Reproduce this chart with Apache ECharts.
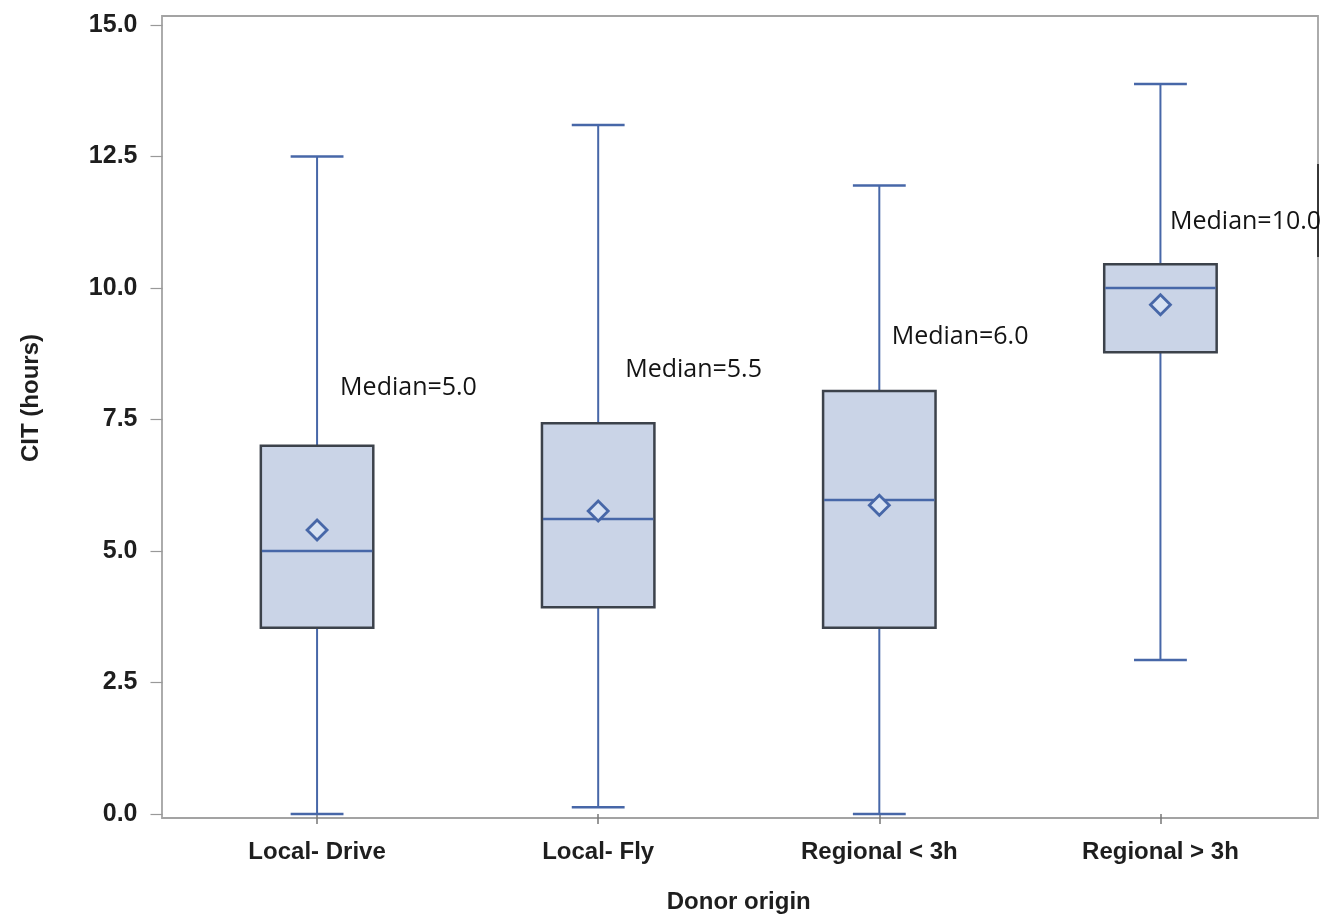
<!DOCTYPE html>
<html>
<head>
<meta charset="utf-8">
<script src="https://cdn.jsdelivr.net/npm/echarts@6/dist/echarts.min.js"></script>
<style>
  html, body { margin: 0; padding: 0; background: #ffffff; }
  #chart { width: 1323px; height: 919px; }
</style>
</head>
<body>
<div id="chart"></div>
<script>
// ---- data ----
const categories   = ['Local- Drive', 'Local- Fly', 'Regional < 3h', 'Regional > 3h'];
const whiskerLow   = [0.0, 0.13, 0.0, 2.93];
const q1           = [3.54, 3.93, 3.54, 8.78];
const median       = [5.0, 5.61, 5.97, 10.0];
const q3           = [7.0, 7.43, 8.04, 10.45];
const whiskerHigh  = [12.5, 13.1, 11.95, 13.88];
const means        = [5.4, 5.76, 5.87, 9.68];
const noteText     = ['Median=5.0', 'Median=5.5', 'Median=6.0', 'Median=10.0'];
const noteY        = [8.1, 8.44, 9.07, 11.25];
const yTicks       = [0, 2.5, 5, 7.5, 10, 12.5, 15];

// ---- styling ----
const noteDx = [0.082, 0.096, 0.044, 0.034]; // horizontal shift of notes, in category bands
const BOX_FILL = '#cad4e7';
const BOX_EDGE = '#3c424b';
const BLUE = '#4767a8';

const boxData = categories.map((c, i) => [i, whiskerLow[i], q1[i], median[i], q3[i], whiskerHigh[i], means[i]]);
const noteData = categories.map((c, i) => [i, noteY[i]]);

function renderBox(params, api) {
  const i = api.value(0);
  const band = api.size([1, 0])[0];
  const bw = band * 0.40;
  const cw = bw * 0.47;
  const x = api.coord([i, api.value(3)])[0];
  const yLo = api.coord([i, api.value(1)])[1];
  const yQ1 = api.coord([i, api.value(2)])[1];
  const yMed = api.coord([i, api.value(3)])[1];
  const yQ3 = api.coord([i, api.value(4)])[1];
  const yHi = api.coord([i, api.value(5)])[1];
  const yMean = api.coord([i, api.value(6)])[1];
  const d = 10;
  const line = (x1, y1, x2, y2, color, w) => ({
    type: 'line', shape: { x1, y1, x2, y2 }, style: { stroke: color, lineWidth: w }
  });
  return {
    type: 'group',
    children: [
      line(x, yQ3, x, yHi, BLUE, 2),
      line(x, yQ1, x, yLo, BLUE, 2),
      line(x - cw / 2, yHi, x + cw / 2, yHi, BLUE, 2.5),
      line(x - cw / 2, yLo, x + cw / 2, yLo, BLUE, 2.5),
      {
        type: 'rect',
        shape: { x: x - bw / 2, y: yQ3, width: bw, height: yQ1 - yQ3 },
        style: { fill: BOX_FILL, stroke: BOX_EDGE, lineWidth: 2.5 }
      },
      line(x - bw / 2 + 1, yMed, x + bw / 2 - 1, yMed, BLUE, 2.5),
      {
        type: 'polygon',
        shape: { points: [[x, yMean - d], [x + d, yMean], [x, yMean + d], [x - d, yMean]] },
        style: { fill: '#d7e2f3', stroke: BLUE, lineWidth: 2.8 }
      }
    ]
  };
}

function renderNote(params, api) {
  const i = api.value(0);
  const band = api.size([1, 0])[0];
  const p = api.coord([i, api.value(1)]);
  return {
    type: 'text',
    x: p[0] + band * noteDx[i],
    y: p[1],
    style: {
      text: noteText[i],
      fill: '#141414',
      font: '25px "Open Sans"',
      align: 'left',
      verticalAlign: 'middle'
    }
  };
}

const chart = echarts.init(document.getElementById('chart'), null, { renderer: 'canvas' });
chart.setOption({
  animation: false,
  backgroundColor: '#ffffff',
  grid: { left: 176.5, right: 22, top: 25, bottom: 105 },
  xAxis: {
    type: 'category',
    data: categories,
    offset: 4,
    name: 'Donor origin',
    nameLocation: 'middle',
    nameGap: 72,
    nameTextStyle: { fontFamily: 'Liberation Sans', fontWeight: 'bold', fontSize: 24, color: '#1e1e1e' },
    axisLine: { show: false },
    axisTick: { show: true, alignWithLabel: true, length: 10, lineStyle: { color: '#777', width: 1.5 } },
    axisLabel: { margin: 22, fontFamily: 'Liberation Sans', fontWeight: 'bold', fontSize: 24, color: '#1e1e1e' },
    splitLine: { show: false }
  },
  yAxis: {
    type: 'value',
    min: yTicks[0],
    max: yTicks[yTicks.length - 1],
    interval: yTicks[1] - yTicks[0],
    offset: 14,
    axisLine: { show: false },
    axisTick: { show: true, length: 12, lineStyle: { color: '#999', width: 1.2 } },
    axisLabel: {
      margin: 25,
      fontFamily: 'Liberation Sans', fontWeight: 'bold', fontSize: 25, color: '#1e1e1e',
      formatter: v => v.toFixed(1)
    },
    splitLine: { show: false }
  },
  graphic: [
    {
      type: 'rect', z: 0, silent: true,
      shape: { x: 162, y: 16, width: 1156, height: 802 },
      style: { fill: 'none', stroke: '#a3a3a3', lineWidth: 1.8 }
    },
    {
      type: 'line', z: 10, silent: true,
      shape: { x1: 1318, y1: 164, x2: 1318, y2: 257 },
      style: { stroke: '#111', lineWidth: 1.5 }
    },
    {
      type: 'text', silent: true,
      x: 31, y: 398, rotation: Math.PI / 2,
      style: {
        text: 'CIT (hours)', font: 'bold 24px "Liberation Sans"', fill: '#1e1e1e',
        align: 'center', verticalAlign: 'middle'
      }
    }
  ],
  series: [
    {
      type: 'custom',
      renderItem: renderBox,
      data: boxData,
      encode: { x: 0, y: [1, 2, 3, 4, 5, 6] },
      clip: false,
      z: 3
    },
    {
      type: 'custom',
      renderItem: renderNote,
      data: noteData,
      encode: { x: 0, y: 1 },
      clip: false,
      z: 4
    }
  ]
});
</script>
</body>
</html>
